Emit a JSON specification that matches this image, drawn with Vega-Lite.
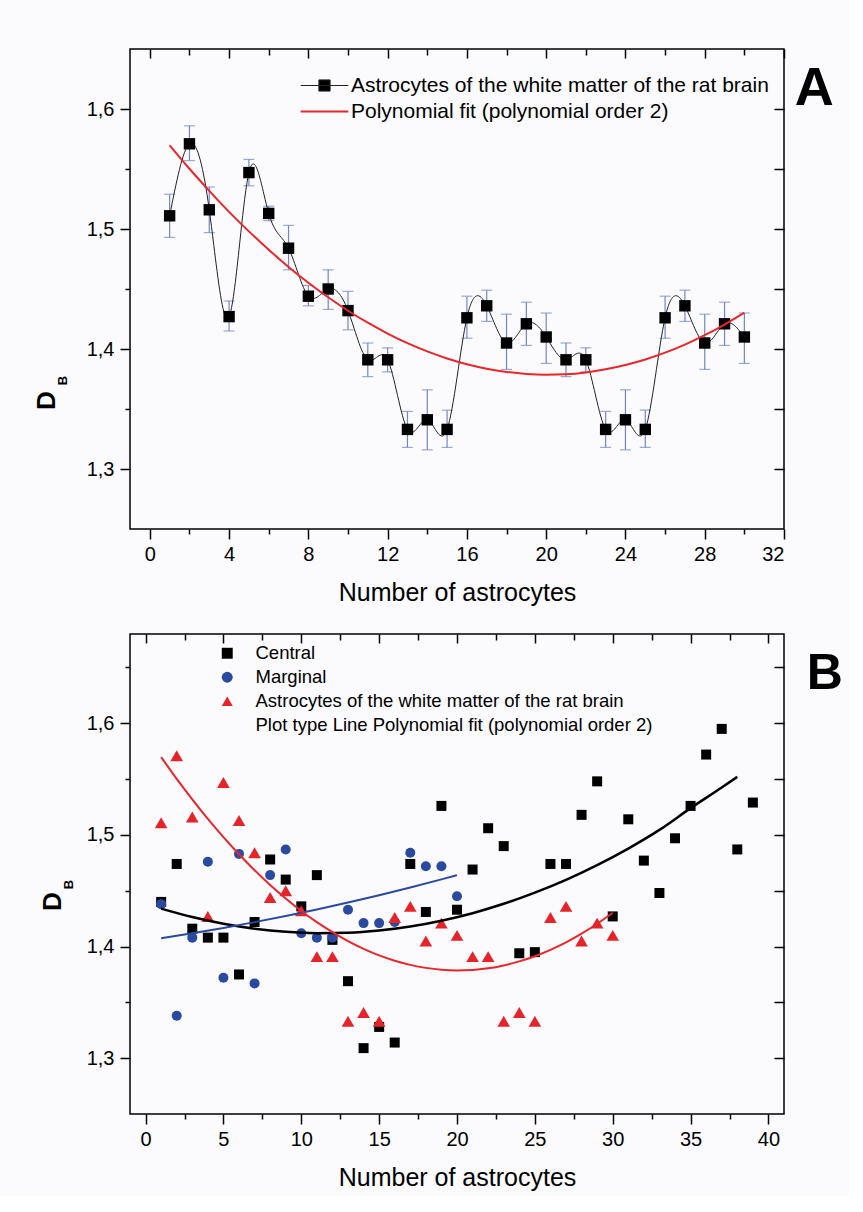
{
  "$schema": "https://vega.github.io/schema/vega-lite/v6.json",
  "background": "#fbfbfd",
  "padding": {"left": 32, "top": 47, "right": 5, "bottom": 5},
  "spacing": 26,
  "resolve": {"scale": {"color": "independent", "shape": "independent"}, "legend": {"color": "independent", "shape": "independent"}},
  "config": {
    "font": "Liberation Sans",
    "view": {"stroke": "#000", "strokeWidth": 1.5},
    "axis": {"grid": false, "domain": false, "tickColor": "#000", "tickWidth": 1.5, "labelColor": "#000", "labelFont": "Liberation Sans", "labelFontSize": 20, "titleFont": "Liberation Sans", "titleColor": "#000", "titleFontWeight": "normal", "titleFontSize": 25, "labelPadding": 5},
    "legend": {"labelFont": "Liberation Sans", "labelColor": "#000"}
  },
  "datasets": {
    "astro": [
      {"x": 1, "y": 1.511, "lo": 1.493, "hi": 1.529},
      {"x": 2, "y": 1.571, "lo": 1.557, "hi": 1.586},
      {"x": 3, "y": 1.516, "lo": 1.497, "hi": 1.535},
      {"x": 4, "y": 1.427, "lo": 1.415, "hi": 1.440},
      {"x": 5, "y": 1.547, "lo": 1.536, "hi": 1.558},
      {"x": 6, "y": 1.513, "lo": 1.507, "hi": 1.519},
      {"x": 7, "y": 1.484, "lo": 1.466, "hi": 1.503},
      {"x": 8, "y": 1.444, "lo": 1.436, "hi": 1.453},
      {"x": 9, "y": 1.450, "lo": 1.433, "hi": 1.466},
      {"x": 10, "y": 1.432, "lo": 1.416, "hi": 1.448},
      {"x": 11, "y": 1.391, "lo": 1.377, "hi": 1.405},
      {"x": 12, "y": 1.391, "lo": 1.381, "hi": 1.401},
      {"x": 13, "y": 1.333, "lo": 1.318, "hi": 1.348},
      {"x": 14, "y": 1.341, "lo": 1.316, "hi": 1.366},
      {"x": 15, "y": 1.333, "lo": 1.318, "hi": 1.349},
      {"x": 16, "y": 1.426, "lo": 1.409, "hi": 1.444},
      {"x": 17, "y": 1.436, "lo": 1.423, "hi": 1.449},
      {"x": 18, "y": 1.405, "lo": 1.383, "hi": 1.429},
      {"x": 19, "y": 1.421, "lo": 1.403, "hi": 1.439},
      {"x": 20, "y": 1.410, "lo": 1.388, "hi": 1.430},
      {"x": 21, "y": 1.391, "lo": 1.377, "hi": 1.405},
      {"x": 22, "y": 1.391, "lo": 1.381, "hi": 1.401},
      {"x": 23, "y": 1.333, "lo": 1.318, "hi": 1.348},
      {"x": 24, "y": 1.341, "lo": 1.316, "hi": 1.366},
      {"x": 25, "y": 1.333, "lo": 1.318, "hi": 1.349},
      {"x": 26, "y": 1.426, "lo": 1.409, "hi": 1.444},
      {"x": 27, "y": 1.436, "lo": 1.423, "hi": 1.449},
      {"x": 28, "y": 1.405, "lo": 1.383, "hi": 1.429},
      {"x": 29, "y": 1.421, "lo": 1.403, "hi": 1.439},
      {"x": 30, "y": 1.410, "lo": 1.388, "hi": 1.430}
    ],
    "b": [
      {"g": "Central", "x": 1, "y": 1.440}, {"g": "Central", "x": 2, "y": 1.474}, {"g": "Central", "x": 3, "y": 1.416},
      {"g": "Central", "x": 4, "y": 1.408}, {"g": "Central", "x": 5, "y": 1.408}, {"g": "Central", "x": 6, "y": 1.375},
      {"g": "Central", "x": 7, "y": 1.422}, {"g": "Central", "x": 8, "y": 1.478}, {"g": "Central", "x": 9, "y": 1.460},
      {"g": "Central", "x": 10, "y": 1.436}, {"g": "Central", "x": 11, "y": 1.464}, {"g": "Central", "x": 12, "y": 1.406},
      {"g": "Central", "x": 13, "y": 1.369}, {"g": "Central", "x": 14, "y": 1.309}, {"g": "Central", "x": 15, "y": 1.328},
      {"g": "Central", "x": 16, "y": 1.314}, {"g": "Central", "x": 17, "y": 1.474}, {"g": "Central", "x": 18, "y": 1.431},
      {"g": "Central", "x": 19, "y": 1.526}, {"g": "Central", "x": 20, "y": 1.433}, {"g": "Central", "x": 21, "y": 1.469},
      {"g": "Central", "x": 22, "y": 1.506}, {"g": "Central", "x": 23, "y": 1.490}, {"g": "Central", "x": 24, "y": 1.394},
      {"g": "Central", "x": 25, "y": 1.395}, {"g": "Central", "x": 26, "y": 1.474}, {"g": "Central", "x": 27, "y": 1.474},
      {"g": "Central", "x": 28, "y": 1.518}, {"g": "Central", "x": 29, "y": 1.548}, {"g": "Central", "x": 30, "y": 1.427},
      {"g": "Central", "x": 31, "y": 1.514}, {"g": "Central", "x": 32, "y": 1.477}, {"g": "Central", "x": 33, "y": 1.448},
      {"g": "Central", "x": 34, "y": 1.497}, {"g": "Central", "x": 35, "y": 1.526}, {"g": "Central", "x": 36, "y": 1.572},
      {"g": "Central", "x": 37, "y": 1.595}, {"g": "Central", "x": 38, "y": 1.487}, {"g": "Central", "x": 39, "y": 1.529},
      {"g": "Marginal", "x": 1, "y": 1.438}, {"g": "Marginal", "x": 2, "y": 1.338}, {"g": "Marginal", "x": 3, "y": 1.408},
      {"g": "Marginal", "x": 4, "y": 1.476}, {"g": "Marginal", "x": 5, "y": 1.372}, {"g": "Marginal", "x": 6, "y": 1.483},
      {"g": "Marginal", "x": 7, "y": 1.367}, {"g": "Marginal", "x": 8, "y": 1.464}, {"g": "Marginal", "x": 9, "y": 1.487},
      {"g": "Marginal", "x": 10, "y": 1.412}, {"g": "Marginal", "x": 11, "y": 1.408}, {"g": "Marginal", "x": 12, "y": 1.408},
      {"g": "Marginal", "x": 13, "y": 1.433}, {"g": "Marginal", "x": 14, "y": 1.421}, {"g": "Marginal", "x": 15, "y": 1.421},
      {"g": "Marginal", "x": 16, "y": 1.422}, {"g": "Marginal", "x": 17, "y": 1.484}, {"g": "Marginal", "x": 18, "y": 1.472},
      {"g": "Marginal", "x": 19, "y": 1.472}, {"g": "Marginal", "x": 20, "y": 1.445}
    ],
    "fits": [
      {"c": "A", "x": 1, "y": 1.5697}, {"c": "A", "x": 2, "y": 1.5502}, {"c": "A", "x": 3, "y": 1.5318}, {"c": "A", "x": 4, "y": 1.5143},
      {"c": "A", "x": 5, "y": 1.4980}, {"c": "A", "x": 6, "y": 1.4827}, {"c": "A", "x": 7, "y": 1.4684}, {"c": "A", "x": 8, "y": 1.4552},
      {"c": "A", "x": 9, "y": 1.4431}, {"c": "A", "x": 10, "y": 1.4319}, {"c": "A", "x": 11, "y": 1.4219}, {"c": "A", "x": 12, "y": 1.4129},
      {"c": "A", "x": 13, "y": 1.4049}, {"c": "A", "x": 14, "y": 1.3980}, {"c": "A", "x": 15, "y": 1.3921}, {"c": "A", "x": 16, "y": 1.3873},
      {"c": "A", "x": 17, "y": 1.3836}, {"c": "A", "x": 18, "y": 1.3809}, {"c": "A", "x": 19, "y": 1.3792}, {"c": "A", "x": 20, "y": 1.3786},
      {"c": "A", "x": 21, "y": 1.3790}, {"c": "A", "x": 22, "y": 1.3805}, {"c": "A", "x": 23, "y": 1.3831}, {"c": "A", "x": 24, "y": 1.3867},
      {"c": "A", "x": 25, "y": 1.3913}, {"c": "A", "x": 26, "y": 1.3970}, {"c": "A", "x": 27, "y": 1.4037}, {"c": "A", "x": 28, "y": 1.4115},
      {"c": "A", "x": 29, "y": 1.4204}, {"c": "A", "x": 30, "y": 1.4303},
      {"c": "C", "x": 1, "y": 1.4340}, {"c": "C", "x": 3, "y": 1.4264}, {"c": "C", "x": 5, "y": 1.4204}, {"c": "C", "x": 7, "y": 1.4160},
      {"c": "C", "x": 9, "y": 1.4132}, {"c": "C", "x": 11, "y": 1.4120}, {"c": "C", "x": 13, "y": 1.4124}, {"c": "C", "x": 15, "y": 1.4144},
      {"c": "C", "x": 17, "y": 1.4180}, {"c": "C", "x": 19, "y": 1.4232}, {"c": "C", "x": 21, "y": 1.4299}, {"c": "C", "x": 23, "y": 1.4383},
      {"c": "C", "x": 25, "y": 1.4483}, {"c": "C", "x": 27, "y": 1.4598}, {"c": "C", "x": 29, "y": 1.4730}, {"c": "C", "x": 31, "y": 1.4878},
      {"c": "C", "x": 33, "y": 1.5045}, {"c": "C", "x": 35, "y": 1.5240}, {"c": "C", "x": 37, "y": 1.5425}, {"c": "C", "x": 38, "y": 1.5520},
      {"c": "M", "x": 1, "y": 1.4075}, {"c": "M", "x": 3, "y": 1.4119}, {"c": "M", "x": 5, "y": 1.4167}, {"c": "M", "x": 7, "y": 1.4219},
      {"c": "M", "x": 9, "y": 1.4274}, {"c": "M", "x": 11, "y": 1.4332}, {"c": "M", "x": 13, "y": 1.4395}, {"c": "M", "x": 15, "y": 1.4460},
      {"c": "M", "x": 17, "y": 1.4529}, {"c": "M", "x": 19, "y": 1.4602}, {"c": "M", "x": 20, "y": 1.4640}
    ]
  },
  "vconcat": [
    {
      "width": 654,
      "height": 480,
      "title": {"text": "A", "orient": "right", "anchor": "start", "frame": "group", "angle": 0, "align": "left", "baseline": "top", "fontSize": 54, "fontWeight": "bold", "color": "#000", "font": "Liberation Sans", "offset": -29, "dy": 13},
      "data": {"name": "astro"},
      "resolve": {"axis": {"x": "independent", "y": "independent"}},
      "layer": [
        {
          "mark": {"type": "rule", "color": "#7086c6", "strokeWidth": 1.2},
          "encoding": {
            "x": {"field": "x", "type": "quantitative", "scale": {"domain": [-1, 32], "nice": false, "zero": false},
              "axis": {"orient": "top", "values": [0, 2, 4, 6, 8, 10, 12, 14, 16, 18, 20, 22, 24, 26, 28, 30, 32], "labels": false, "title": null, "tickSize": {"condition": {"test": "datum.value % 4 != 0", "value": -6}, "value": -9}}},
            "y": {"field": "lo", "type": "quantitative", "scale": {"domain": [1.25, 1.65], "nice": false, "zero": false},
              "axis": {"orient": "right", "values": [1.3, 1.35, 1.4, 1.45, 1.5, 1.55, 1.6], "labels": false, "title": null, "tickSize": -10}},
            "y2": {"field": "hi"}
          }
        },
        {
          "mark": {"type": "tick", "orient": "horizontal", "size": 11, "thickness": 1.2, "color": "#7086c6"},
          "encoding": {
            "x": {"field": "x", "type": "quantitative", "scale": {"domain": [-1, 32], "nice": false, "zero": false}, "axis": null},
            "y": {"field": "lo", "type": "quantitative", "scale": {"domain": [1.25, 1.65], "nice": false, "zero": false}, "axis": null}
          }
        },
        {
          "mark": {"type": "tick", "orient": "horizontal", "size": 11, "thickness": 1.2, "color": "#7086c6"},
          "encoding": {
            "x": {"field": "x", "type": "quantitative", "scale": {"domain": [-1, 32], "nice": false, "zero": false}, "axis": null},
            "y": {"field": "hi", "type": "quantitative", "scale": {"domain": [1.25, 1.65], "nice": false, "zero": false}, "axis": null}
          }
        },
        {
          "mark": {"type": "line", "interpolate": "natural", "strokeWidth": 1},
          "encoding": {
            "x": {"field": "x", "type": "quantitative", "scale": {"domain": [-1, 32], "nice": false, "zero": false},
              "axis": {"orient": "bottom", "values": [0, 2, 4, 6, 8, 10, 12, 14, 16, 18, 20, 22, 24, 26, 28, 30, 32], "labelExpr": "datum.value % 4 == 0 ? datum.label : ''", "tickSize": {"condition": {"test": "datum.value % 4 != 0", "value": 5}, "value": 10}, "title": "Number of astrocytes", "titlePadding": 16}},
            "y": {"field": "y", "type": "quantitative", "scale": {"domain": [1.25, 1.65], "nice": false, "zero": false},
              "axis": {"orient": "left", "values": [1.3, 1.35, 1.4, 1.45, 1.5, 1.55, 1.6], "labelExpr": "round(datum.value*100) % 10 == 0 ? replace(format(datum.value, '.1f'), '.', ',') : ''", "tickSize": {"condition": {"test": "round(datum.value*100) % 10 != 0", "value": 5}, "value": 10}, "labelPadding": 6, "title": "D", "titleFontSize": 26, "titleFontWeight": "bold", "titleX": -84, "titleY": 351, "titleBaseline": "middle", "titleAngle": 270}},
            "color": {"datum": "Astrocytes of the white matter of the rat brain", "type": "nominal",
              "scale": {"domain": ["Astrocytes of the white matter of the rat brain", "Polynomial fit (polynomial order 2)"], "range": ["#222222", "#e8262b"]},
              "legend": {"orient": "none", "legendX": 184, "legendY": 26, "title": null, "labelFontSize": 21, "labelLimit": 800, "symbolSize": 196, "labelOffset": 16, "rowPadding": 4, "padding": 0,
                "encode": {"symbols": {"update": {
                  "shape": {"signal": "datum.label == 'Polynomial fit (polynomial order 2)' ? 'M-3.4,0H3.4' : 'M-3.4,0H3.4M-0.8,-0.8H0.8V0.8H-0.8Z'"},
                  "fill": {"signal": "datum.label == 'Polynomial fit (polynomial order 2)' ? 'transparent' : '#000'"},
                  "strokeWidth": {"signal": "datum.label == 'Polynomial fit (polynomial order 2)' ? 2 : 1"}
                }}}}}
          }
        },
        {
          "mark": {"type": "point", "shape": "square", "filled": true, "color": "#000", "size": 130, "opacity": 1},
          "encoding": {
            "x": {"field": "x", "type": "quantitative", "scale": {"domain": [-1, 32], "nice": false, "zero": false}, "axis": null},
            "y": {"field": "y", "type": "quantitative", "scale": {"domain": [1.25, 1.65], "nice": false, "zero": false},
              "axis": {"orient": "left", "title": "B", "titleFontSize": 13, "titleFontWeight": "bold", "titleX": -68, "titleY": 331, "titleBaseline": "middle", "titleAngle": 270, "labels": false, "ticks": false, "domain": false}}
          }
        },
        {
          "data": {"name": "fits"},
          "transform": [{"filter": "datum.c == 'A'"}],
          "mark": {"type": "line", "strokeWidth": 2, "interpolate": "monotone"},
          "encoding": {
            "x": {"field": "x", "type": "quantitative", "scale": {"domain": [-1, 32], "nice": false, "zero": false}, "axis": null},
            "y": {"field": "y", "type": "quantitative", "scale": {"domain": [1.25, 1.65], "nice": false, "zero": false}, "axis": null},
            "color": {"datum": "Polynomial fit (polynomial order 2)", "type": "nominal"}
          }
        }
      ]
    },
    {
      "width": 654,
      "height": 480,
      "title": {"text": "B", "orient": "right", "anchor": "start", "frame": "group", "angle": 0, "align": "left", "baseline": "top", "fontSize": 50, "fontWeight": "bold", "color": "#000", "font": "Liberation Sans", "offset": -14, "dy": 15},
      "resolve": {"axis": {"x": "independent", "y": "independent"}},
      "layer": [
        {
          "data": {"name": "b"},
          "mark": {"type": "point", "filled": true, "size": 100, "opacity": 1},
          "encoding": {
            "x": {"field": "x", "type": "quantitative", "scale": {"domain": [-1, 41], "nice": false, "zero": false},
              "axis": {"orient": "bottom", "values": [0, 2.5, 5, 7.5, 10, 12.5, 15, 17.5, 20, 22.5, 25, 27.5, 30, 32.5, 35, 37.5, 40], "labelExpr": "datum.value % 5 == 0 ? datum.label : ''", "tickSize": {"condition": {"test": "datum.value % 5 != 0", "value": 5}, "value": 10}, "title": "Number of astrocytes", "titlePadding": 16}},
            "y": {"field": "y", "type": "quantitative", "scale": {"domain": [1.25, 1.68], "nice": false, "zero": false},
              "axis": {"orient": "left", "values": [1.3, 1.35, 1.4, 1.45, 1.5, 1.55, 1.6, 1.65], "labelExpr": "round(datum.value*100) % 10 == 0 ? replace(format(datum.value, '.1f'), '.', ',') : ''", "tickSize": {"condition": {"test": "round(datum.value*100) % 10 != 0", "value": 5}, "value": 10}, "labelPadding": 6, "title": "D", "titleFontSize": 26, "titleFontWeight": "bold", "titleX": -78, "titleY": 267, "titleBaseline": "middle", "titleAngle": 270}},
            "color": {"field": "g", "type": "nominal",
              "scale": {"domain": ["Central", "Marginal", "Astrocytes of the white matter of the rat brain", "Plot type Line Polynomial fit (polynomial order 2)"], "range": ["#000000", "#2a4a9f", "#e5242a", "rgba(0,0,0,0)"]},
              "legend": {"orient": "none", "legendX": 88, "legendY": 10, "title": null, "labelFontSize": 18.5, "labelLimit": 800, "symbolSize": 120, "labelOffset": 19, "rowPadding": 5, "padding": 0}},
            "shape": {"field": "g", "type": "nominal",
              "scale": {"domain": ["Central", "Marginal", "Astrocytes of the white matter of the rat brain", "Plot type Line Polynomial fit (polynomial order 2)"], "range": ["square", "circle", "triangle-up", "circle"]},
              "legend": {"orient": "none", "legendX": 88, "legendY": 10, "title": null, "labelFontSize": 18.5, "labelLimit": 800, "symbolSize": 120, "labelOffset": 19, "rowPadding": 5, "padding": 0}}
          }
        },
        {
          "data": {"name": "astro"},
          "mark": {"type": "point", "shape": "triangle-up", "filled": true, "color": "#e5242a", "size": 160, "opacity": 1},
          "encoding": {
            "x": {"field": "x", "type": "quantitative", "scale": {"domain": [-1, 41], "nice": false, "zero": false},
              "axis": {"orient": "top", "values": [0, 2.5, 5, 7.5, 10, 12.5, 15, 17.5, 20, 22.5, 25, 27.5, 30, 32.5, 35, 37.5, 40], "labels": false, "title": null, "tickSize": {"condition": {"test": "datum.value % 5 != 0", "value": -6}, "value": -9}}},
            "y": {"field": "y", "type": "quantitative", "scale": {"domain": [1.25, 1.68], "nice": false, "zero": false},
              "axis": {"orient": "right", "values": [1.3, 1.35, 1.4, 1.45, 1.5, 1.55, 1.6, 1.65], "labels": false, "title": null, "tickSize": -10}}
          }
        },
        {
          "data": {"name": "fits"},
          "transform": [{"filter": "datum.c == 'C'"}],
          "mark": {"type": "line", "strokeWidth": 2.5, "color": "#000", "interpolate": "monotone"},
          "encoding": {
            "x": {"field": "x", "type": "quantitative", "scale": {"domain": [-1, 41], "nice": false, "zero": false}, "axis": null},
            "y": {"field": "y", "type": "quantitative", "scale": {"domain": [1.25, 1.68], "nice": false, "zero": false},
              "axis": {"orient": "left", "title": "B", "titleFontSize": 13, "titleFontWeight": "bold", "titleX": -62, "titleY": 250, "titleBaseline": "middle", "titleAngle": 270, "labels": false, "ticks": false, "domain": false}}
          }
        },
        {
          "data": {"name": "fits"},
          "transform": [{"filter": "datum.c == 'M'"}],
          "mark": {"type": "line", "strokeWidth": 2, "color": "#2a4a9f", "interpolate": "monotone"},
          "encoding": {
            "x": {"field": "x", "type": "quantitative", "scale": {"domain": [-1, 41], "nice": false, "zero": false}, "axis": null},
            "y": {"field": "y", "type": "quantitative", "scale": {"domain": [1.25, 1.68], "nice": false, "zero": false}, "axis": null}
          }
        },
        {
          "data": {"name": "fits"},
          "transform": [{"filter": "datum.c == 'A'"}],
          "mark": {"type": "line", "strokeWidth": 2, "color": "#e8262b", "interpolate": "monotone"},
          "encoding": {
            "x": {"field": "x", "type": "quantitative", "scale": {"domain": [-1, 41], "nice": false, "zero": false}, "axis": null},
            "y": {"field": "y", "type": "quantitative", "scale": {"domain": [1.25, 1.68], "nice": false, "zero": false}, "axis": null}
          }
        }
      ]
    }
  ]
}
